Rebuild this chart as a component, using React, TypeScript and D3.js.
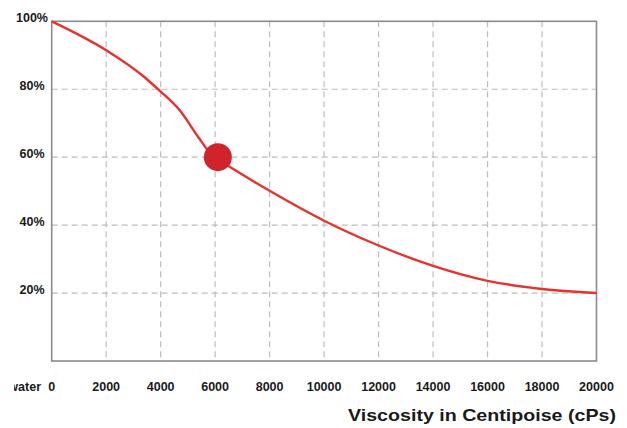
import React from "react";
import * as d3 from "d3";

const viscosity = [0, 2000, 3400, 3900, 4700, 5400, 5900, 6500, 8000, 10000, 12000, 14000, 16000, 18000, 20000];
const percent = [100, 91.5, 83.6, 80, 73.8, 65.7, 60.3, 57.3, 50.1, 41.3, 34, 28, 23.6, 21.2, 20];
const markerPoint = [6100, 60];
const xTicks = [0, 2000, 4000, 6000, 8000, 10000, 12000, 14000, 16000, 18000, 20000];
const yTicks = [20, 40, 60, 80, 100];
const xTitle = "Viscosity in Centipoise (cPs)";
const zeroPrefix = "water";

const W = 627, H = 428;
const left = 51.7, right = 596.5, top = 21.3, bottom = 361;

export default function App() {
  const x = d3.scaleLinear().domain([0, 20000]).range([left, right]);
  const y = d3.scaleLinear().domain([0, 100]).range([bottom, top]);
  const data = viscosity.map((v, i) => [v, percent[i]] as [number, number]);
  const line = d3.line<[number, number]>().x(d => x(d[0])).y(d => y(d[1])).curve(d3.curveMonotoneX);
  const font = "'Liberation Sans', Arial, sans-serif";
  return (
    <svg width={W} height={H} style={{ position: "absolute", left: 0, top: 0, background: "#fff" }} fontFamily={font}>
      <defs>
        <clipPath id="prefixClip">
          <rect x={14} y={370} width={40} height={30} />
        </clipPath>
      </defs>
      {xTicks.filter(t => t > 0 && t < 20000).map(t => (
        <line key={"gx" + t} x1={x(t)} x2={x(t)} y1={top} y2={bottom} stroke="#bdbdbd" strokeWidth={1.2} strokeDasharray="6,4" />
      ))}
      {yTicks.filter(t => t < 100).map(t => (
        <line key={"gy" + t} x1={left} x2={right} y1={y(t)} y2={y(t)} stroke="#bdbdbd" strokeWidth={1.2} strokeDasharray="6,4" />
      ))}
      <rect x={left} y={top} width={right - left} height={bottom - top} fill="none" stroke="#8a8a8e" strokeWidth={1.6} />
      <path d={line(data) || ""} fill="none" stroke="#e8312f" strokeWidth={2.4} />
      <circle cx={x(markerPoint[0])} cy={y(markerPoint[1])} r={14} fill="#d0232b" />
      {yTicks.map(t => (
        <text key={"ly" + t} x={32} y={y(t) + 0.5} textAnchor="middle" fontSize={12.5} fontWeight="bold" fill="#1a1a1a">{t}%</text>
      ))}
      {xTicks.map(t => (
        <text key={"lx" + t} x={x(t)} y={390.5} textAnchor="middle" fontSize={12.5} fontWeight="bold" fill="#1a1a1a">{t}</text>
      ))}
      <text x={41} y={390.5} textAnchor="end" fontSize={12.5} fontWeight="bold" fill="#1a1a1a" clipPath="url(#prefixClip)">{zeroPrefix}</text>
      <text x={348} y={421} fontSize={17} fontWeight="bold" fill="#1a1a1a" textLength={268} lengthAdjust="spacingAndGlyphs">{xTitle}</text>
    </svg>
  );
}
